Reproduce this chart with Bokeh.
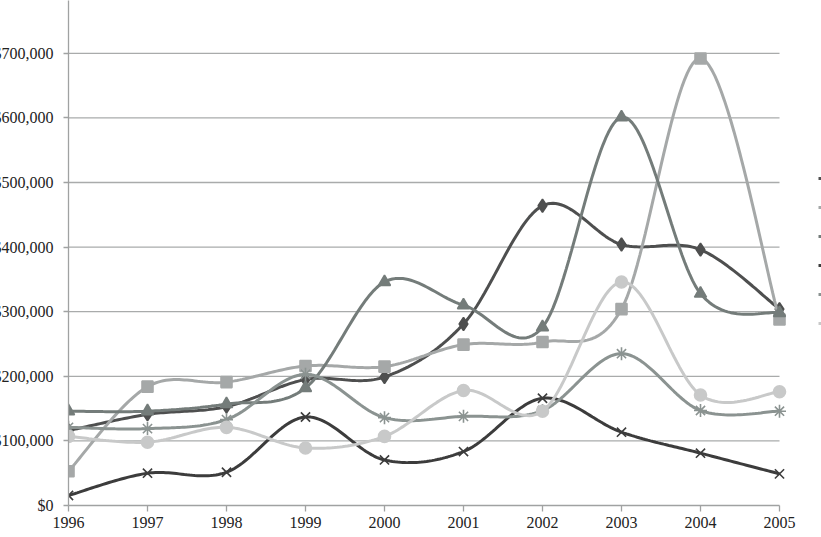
import numpy as np
from bokeh.plotting import figure
from bokeh.models import Range1d, FixedTicker, NumeralTickFormatter, Legend, LegendItem
from bokeh.embed import file_html
from bokeh.resources import INLINE

years = [1996, 1997, 1998, 1999, 2000, 2001, 2002, 2003, 2004, 2005]
s1_diamond = [116000, 141000, 153000, 195000, 199000, 281000, 464000, 404000, 396000, 304000]
s2_square = [53000, 184000, 191000, 216000, 215000, 249000, 253000, 304000, 692000, 288000]
s3_triangle = [146000, 146000, 157000, 182000, 346000, 310000, 276000, 601000, 328000, 298000]
s4_cross = [15500, 50000, 51500, 137000, 70500, 83500, 166000, 113500, 81000, 49000]
s5_asterisk = [121000, 119000, 133000, 203000, 136000, 138000, 147000, 235000, 147000, 146000]
s6_circle = [107000, 98000, 121000, 89000, 107000, 178000, 146000, 346000, 171000, 176000]
y_ticks = [0, 100000, 200000, 300000, 400000, 500000, 600000, 700000]

series = [s1_diamond, s2_square, s3_triangle, s4_cross, s5_asterisk, s6_circle]
colors = ["#4e4f4f", "#a5a8a8", "#747c7a", "#3c3c3c", "#8b9391", "#c8c9c9"]
markers = ["diamond", "square", "triangle", "x", "asterisk", "circle"]
sizes = [13, 11, 12, 13, 13, 12]


def smooth(xs, ys, n=30):
    pts = list(zip(xs, ys))
    ox, oy = [], []
    last = len(pts) - 1
    for i in range(last):
        p0 = pts[max(i - 1, 0)]
        p1 = pts[i]
        p2 = pts[i + 1]
        p3 = pts[min(i + 2, last)]
        c1 = (p1[0] + (p2[0] - p0[0]) / 6.0, p1[1] + (p2[1] - p0[1]) / 6.0)
        c2 = (p2[0] - (p3[0] - p1[0]) / 6.0, p2[1] - (p3[1] - p1[1]) / 6.0)
        t = np.linspace(0, 1, n, endpoint=(i == last - 1))
        a = (1 - t) ** 3
        b = 3 * (1 - t) ** 2 * t
        c = 3 * (1 - t) * t ** 2
        d = t ** 3
        ox.extend(a * p1[0] + b * c1[0] + c * c2[0] + d * p2[0])
        oy.extend(a * p1[1] + b * c1[1] + c * c2[1] + d * p2[1])
    return ox, oy


# frame spans 1996..2005 plus a strip on the right where the (cropped) legend sits
x_end = years[-1] + 42.0 / 79.0
p = figure(width=833, height=537, output_backend="svg", toolbar_location=None,
           x_range=Range1d(years[0], x_end), y_range=Range1d(0, 781700),
           min_border_left=80, min_border_right=0, min_border_top=0, min_border_bottom=32,
           margin=(0, 0, 0, -12))
p.outline_line_color = None
p.background_fill_color = "white"
p.border_fill_color = "white"

p.xgrid.grid_line_color = None
p.ygrid.grid_line_color = None
# horizontal gridlines limited to the category span
p.segment(x0=[years[0]] * (len(y_ticks) - 1), x1=[years[-1]] * (len(y_ticks) - 1),
          y0=y_ticks[1:], y1=y_ticks[1:], line_color="#a9abab", line_width=1.3,
          level="underlay")

p.xaxis.ticker = FixedTicker(ticks=years)
p.xaxis.bounds = (years[0], years[-1])
p.yaxis.ticker = FixedTicker(ticks=y_ticks)
p.yaxis.formatter = NumeralTickFormatter(format="$0,0")
for ax in (p.xaxis, p.yaxis):
    ax.axis_line_color = "#a0a2a2"
    ax.axis_line_width = 1.3
    ax.major_tick_line_color = "#a0a2a2"
    ax.major_tick_line_width = 1.3
    ax.major_tick_in = 0
    ax.minor_tick_line_color = None
    ax.major_label_text_font = "Liberation Serif"
    ax.major_label_text_font_size = "16px"
    ax.major_label_text_color = "#222222"
p.xaxis.major_tick_out = 6
p.xaxis.major_label_standoff = 5
p.yaxis.major_tick_out = 5
p.yaxis.major_label_standoff = 10

items = []
for ys, col, mk, sz in zip(series, colors, markers, sizes):
    sx, sy = smooth(years, ys)
    lr = p.line(sx, sy, line_color=col, line_width=3)
    sr = p.scatter(years, ys, marker=mk, size=sz, fill_color=col, line_color=col,
                   line_width=1.6)
    items.append(LegendItem(label="", renderers=[lr, sr]))

legend = Legend(items=items, location=(750, 172), orientation="vertical",
                glyph_width=20, glyph_height=20, label_height=20, spacing=9,
                padding=0, margin=0, border_line_alpha=0, background_fill_alpha=0,
                label_standoff=0)
p.add_layout(legend)

open("out.html", "w").write(file_html(p, INLINE))
